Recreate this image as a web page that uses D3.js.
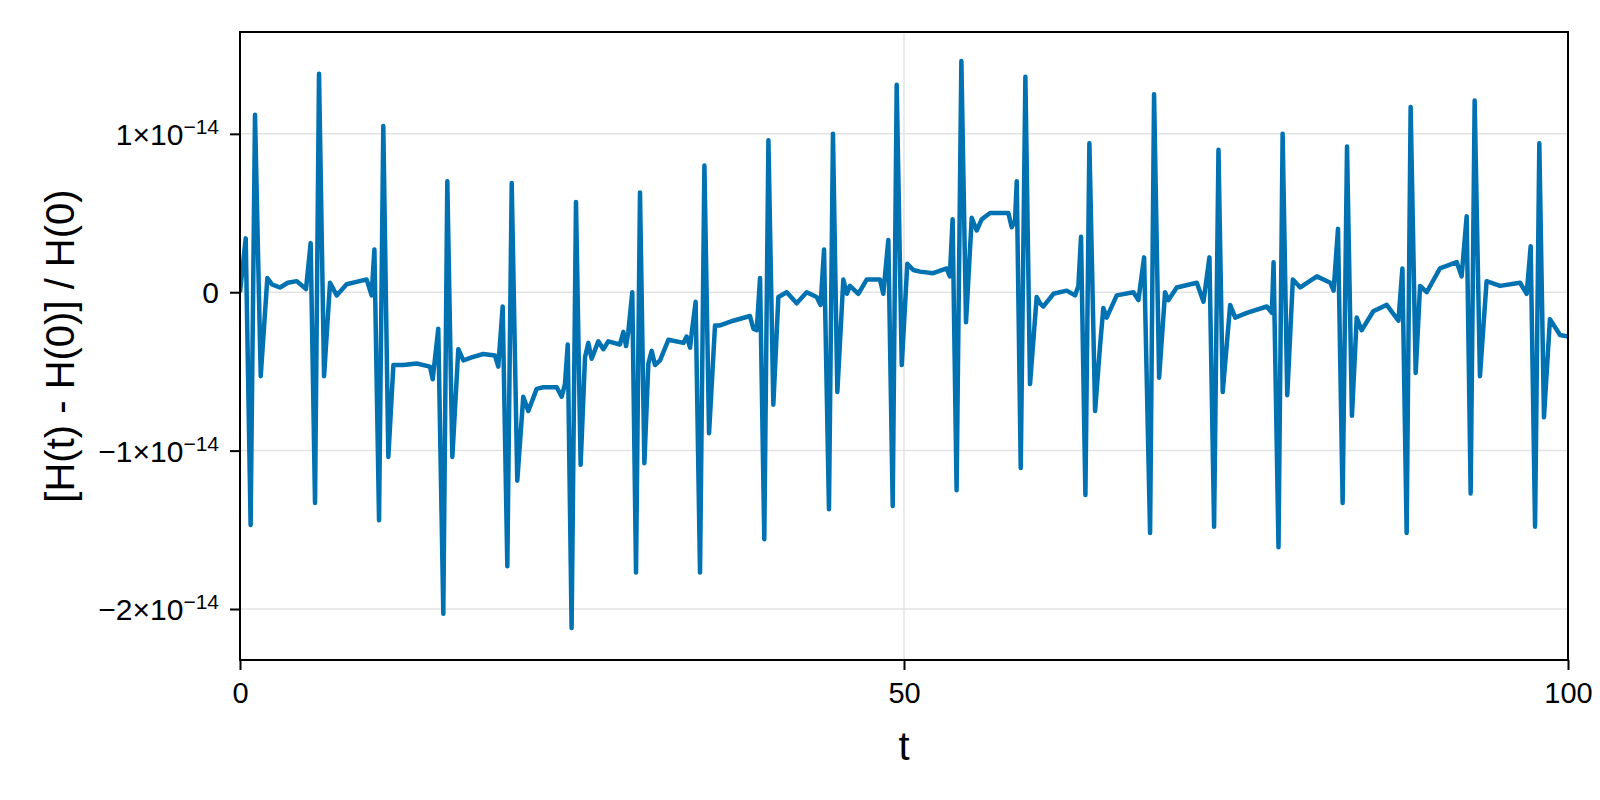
<!DOCTYPE html>
<html>
<head>
<meta charset="utf-8">
<script src="https://cdn.jsdelivr.net/npm/d3@7"></script>
<style>
  body { margin: 0; background: #fff; }
  svg text { font-family: "Liberation Sans", Arial, sans-serif; }
</style>
</head>
<body>
<div id="chart"></div>
<script>
// time values
const tVals = [0,0.43,0.80,1.13,1.56,2.06,2.4,3.01,3.6,4.27,4.97,5.32,5.65,5.95,6.33,6.78,7.28,8.03,9.0,9.54,9.91,
  10.12,10.47,10.79,11.17,11.55,12.3,13.3,14.31,14.51,14.93,15.31,15.61,15.99,16.44,16.82,17.5,18.32,19.2,19.45,
  19.78,20.13,20.46,20.88,21.33,21.71,22.34,22.84,23.85,24.22,24.47,24.68,24.97,25.30,25.65,25.98,26.23,26.48,26.98,
  27.36,27.73,28.61,28.87,29.07,29.24,29.54,29.82,30.12,30.45,30.75,31.0,31.25,31.63,32.26,33.39,33.63,33.89,34.01,
  34.31,34.64,34.97,35.32,35.77,36.14,37.15,38.4,38.66,38.91,39.16,39.48,39.79,40.16,40.54,41.17,41.92,42.67,43.42,
  43.72,43.98,44.35,44.65,44.98,45.43,45.7,45.93,46.56,47.19,48.19,48.44,48.82,49.15,49.45,49.83,50.25,50.70,51.2,
  52.2,53.21,53.45,53.66,53.96,54.32,54.67,55.1,55.47,55.85,56.48,57.23,57.86,58.11,58.36,58.49,58.79,59.14,59.49,
  59.99,60.24,60.5,61.25,62.25,62.88,63.13,63.33,63.66,63.96,64.39,64.76,65.01,65.26,66.02,67.27,67.65,68.08,68.53,
  68.83,69.21,69.66,69.9,70.54,72.05,72.55,73.0,73.35,73.68,74.0,74.56,74.94,75.82,77.32,77.7,77.83,78.2,78.51,78.86,
  79.28,79.84,81.09,82.1,82.35,82.68,83.03,83.36,83.73,84.09,84.46,85.34,86.35,87.23,87.53,87.85,88.15,88.53,88.86,
  89.36,90.36,91.62,91.99,92.37,92.67,92.97,93.37,93.87,94.88,96.39,96.89,97.19,97.52,97.84,98.19,98.64,99.4,100];
// relative energy error, in units of 1e-14
const hVals = [0,.34,-1.47,1.12,-.53,.09,.05,.03,.06,.07,.02,.31,-1.33,1.38,-.53,.06,-.02,.05,.07,.08,-.02,
  .27,-1.44,1.05,-1.04,-.46,-.46,-.45,-.47,-.55,-.23,-2.03,.70,-1.04,-.36,-.43,-.41,-.39,-.40,-.47,
  -.09,-1.73,.69,-1.19,-.66,-.75,-.61,-.60,-.60,-.66,-.58,-.33,-2.12,.57,-1.09,-.41,-.32,-.42,-.31,
  -.36,-.31,-.33,-.25,-.34,-.25,0,-1.77,.63,-1.08,-.45,-.37,-.46,-.43,-.30,-.32,-.28,-.35,-.26,
  -.06,-1.77,.80,-.89,-.21,-.21,-.18,-.15,-.23,-.24,.09,-1.56,.96,-.71,-.03,0,-.07,0,-.03,
  -.08,.27,-1.37,1.0,-.63,.08,-.01,.04,-.01,.08,.08,-.01,.33,-1.35,1.31,-.46,.18,.14,.13,
  .12,.15,.10,.46,-1.25,1.46,-.19,.47,.39,.46,.50,.50,.50,.41,.45,.70,-1.11,1.36,-.58,
  -.03,-.07,-.09,-.01,.01,-.02,.04,.35,-1.28,.94,-.75,-.34,-.10,-.16,-.02,0,-.05,.22,-1.52,
  1.25,-.54,0,-.05,.03,.06,-.06,.22,-1.48,.90,-.63,-.08,-.16,-.13,-.09,-.13,.19,-1.61,1.0,-.65,
  .08,.03,.10,.06,.01,.40,-1.33,.92,-.78,-.16,-.24,-.12,-.08,-.18,.15,-1.52,1.17,-.51,.04,
  0,.15,.19,.10,.48,-1.27,1.21,-.53,.07,.04,.06,-.01,.29,-1.48,.94,-.79,-.17,-.27,-.28];
const xTicks = [0, 50, 100];
const yTicks = [1, 0, -1, -2];
const yTickLabels = ["1×10", "0", "−1×10", "−2×10"];

function init() {
  const w = 1600, h = 800;
  const padL = 240, padR = 1568, padT = 32, padB = 660;

  const svg = d3.select("#chart").append("svg").attr("width", w).attr("height", h);

  const x = d3.scaleLinear().domain([0, 100]).range([padL, padR]);
  const y = d3.scaleLinear().domain([-2.322, 1.643]).range([padB, padT]);

  // grid
  svg.append("g").selectAll("line").data(xTicks).join("line")
    .attr("x1", d => x(d)).attr("x2", d => x(d)).attr("y1", padT).attr("y2", padB)
    .attr("stroke", "#e3e3e3").attr("stroke-width", 1.5);
  svg.append("g").selectAll("line").data(yTicks).join("line")
    .attr("x1", padL).attr("x2", padR).attr("y1", d => y(d)).attr("y2", d => y(d))
    .attr("stroke", "#e3e3e3").attr("stroke-width", 1.5);

  // series
  const pts = tVals.map((t, i) => [t, hVals[i]]);
  svg.append("defs").append("clipPath").attr("id", "clip")
    .append("rect").attr("x", padL).attr("y", padT).attr("width", padR - padL).attr("height", padB - padT);
  svg.append("path").datum(pts)
    .attr("clip-path", "url(#clip)")
    .attr("fill", "none").attr("stroke", "#0072b2").attr("stroke-width", 4.5)
    .attr("stroke-linejoin", "round")
    .attr("d", d3.line().x(d => x(d[0])).y(d => y(d[1])));

  // frame
  svg.append("rect").attr("x", padL).attr("y", padT).attr("width", padR - padL).attr("height", padB - padT)
    .attr("fill", "none").attr("stroke", "#000").attr("stroke-width", 2);

  // axes
  const xAxis = svg.append("g").attr("transform", `translate(0,${padB})`)
    .call(d3.axisBottom(x).tickValues(xTicks).tickSize(10).tickPadding(12).tickFormat(d3.format("d")));
  xAxis.select(".domain").remove();
  xAxis.selectAll("line").attr("stroke-width", 2);
  xAxis.selectAll("text").attr("font-size", 29).attr("fill", "#000");

  const yAxis = svg.append("g").attr("transform", `translate(${padL},0)`)
    .call(d3.axisLeft(y).tickValues(yTicks).tickSize(10).tickFormat(""));
  yAxis.select(".domain").remove();
  yAxis.selectAll("line").attr("stroke-width", 2);
  yAxis.selectAll(".tick").each(function(d, i) {
    const tx = d3.select(this).append("text").attr("x", -21).attr("dy", "0.35em")
      .attr("text-anchor", "end").attr("font-size", 30).attr("fill", "#000");
    tx.append("tspan").text(yTickLabels[i]);
    if (d !== 0) tx.append("tspan").attr("dy", "-0.5em").attr("font-size", 21).text("−14");
  });

  // labels
  svg.append("text").attr("x", (padL + padR) / 2).attr("y", 760).attr("text-anchor", "middle")
    .attr("font-size", 40).text("t");
  svg.append("text").attr("transform", `translate(74,${(padT + padB) / 2}) rotate(-90)`)
    .attr("text-anchor", "middle").attr("font-size", 40).text("[H(t) - H(0)] / H(0)");
}

init();
</script>
</body>
</html>
